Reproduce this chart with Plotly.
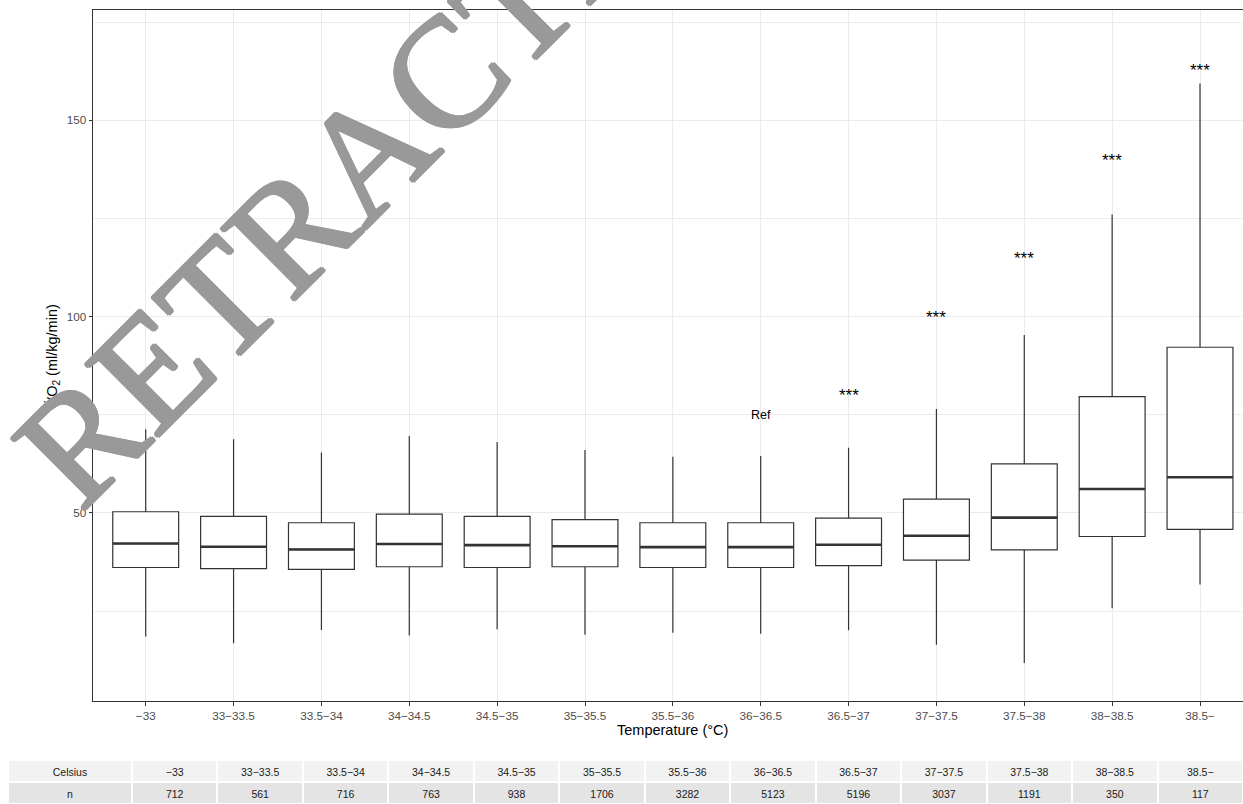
import plotly.graph_objects as go

# ---------------- data ----------------
categories = ["−33", "33−33.5", "33.5−34", "34−34.5", "34.5−35", "35−35.5", "35.5−36",
              "36−36.5", "36.5−37", "37−37.5", "37.5−38", "38−38.5", "38.5−"]
n_counts = [712, 561, 716, 763, 938, 1706, 3282, 5123, 5196, 3037, 1191, 350, 117]

lower_whisker = [18.5, 16.8, 20.2, 18.8, 20.4, 19.0, 19.5, 19.2, 20.1, 16.4, 11.8, 25.7, 31.8]
q1 = [36.1, 35.8, 35.6, 36.3, 36.1, 36.3, 36.1, 36.1, 36.6, 38.0, 40.6, 44.0, 45.8]
median = [42.2, 41.4, 40.7, 42.1, 41.8, 41.5, 41.3, 41.3, 41.9, 44.2, 48.8, 56.1, 59.1]
q3 = [50.3, 49.1, 47.5, 49.7, 49.1, 48.3, 47.5, 47.5, 48.7, 53.5, 62.5, 79.6, 92.2]
upper_whisker = [71.3, 68.8, 65.4, 69.6, 68.1, 66.0, 64.3, 64.5, 66.6, 76.5, 95.3, 126.0, 159.4]

ref_index = 7
ref_label = "Ref"
ref_y = 75.0
sig_index = [8, 9, 10, 11, 12]
sig_label = "***"
sig_y = [79.8, 99.7, 114.8, 139.7, 162.6]

x_title = "Temperature (°C)"
y_title = "V̇O<sub>2</sub> (ml/kg/min)"
watermark = "RETRACTED"

# ---------------- layout geometry (pixels) ----------------
W, H = 1243, 804
panel_left, panel_top, panel_bottom = 93, 10, 701
pos = list(range(len(categories)))
box_w = 0.75

def px_x(p):
    return p / W

def px_y(p):
    return (H - p) / H

fig = go.Figure()

fig.add_trace(go.Box(
    x=pos, q1=q1, median=median, q3=q3,
    lowerfence=lower_whisker, upperfence=upper_whisker,
    width=box_w, whiskerwidth=0, boxpoints=False,
    fillcolor="white", line=dict(color="#333333", width=1.2),
    hoverinfo="skip", showlegend=False,
))

# thicker median segments
mx, my = [], []
for p, m in zip(pos, median):
    mx += [p - box_w / 2, p + box_w / 2, None]
    my += [m, m, None]
fig.add_trace(go.Scatter(x=mx, y=my, mode="lines",
                         line=dict(color="#333333", width=2.6),
                         hoverinfo="skip", showlegend=False))

# table below the plot
fig.add_trace(go.Table(
    domain=dict(x=[px_x(8), 1.0], y=[0, px_y(760)]),
    columnwidth=[124] + [85.5] * len(categories),
    header=dict(values=["Celsius"] + categories,
                fill_color="#F2F2F2", line=dict(color="white", width=2),
                align="center", height=22,
                font=dict(family="Liberation Sans", size=10.5, color="#1a1a1a")),
    cells=dict(values=[["n"]] + [[v] for v in n_counts],
               fill_color="#E4E4E4", line=dict(color="white", width=2),
               align="center", height=22,
               font=dict(family="Liberation Sans", size=10.5, color="#1a1a1a")),
))

annotations = []
annotations.append(dict(x=ref_index, y=ref_y, xref="x", yref="y", text=ref_label,
                        xanchor="center", yanchor="middle",
                        showarrow=False, font=dict(size=12.5, color="black")))
for i, yv in zip(sig_index, sig_y):
    annotations.append(dict(x=i, y=yv, xref="x", yref="y", text=sig_label,
                            xanchor="center", yanchor="middle",
                            showarrow=False, font=dict(size=17, color="black")))
annotations.append(dict(x=px_x(673), y=px_y(730), xref="paper", yref="paper",
                        text=x_title, showarrow=False,
                        xanchor="center", yanchor="middle",
                        font=dict(size=14.5, color="black")))
annotations.append(dict(x=px_x(52), y=px_y(355.5), xref="paper", yref="paper",
                        text=y_title, showarrow=False, textangle=-90,
                        xanchor="center", yanchor="middle",
                        font=dict(size=14.5, color="black")))
wm_shadow = ("1.5px 0 0 #999999, -1.5px 0 0 #999999, 0 1.5px 0 #999999, "
             "0 -1.5px 0 #999999, 1px 1px 0 #999999, -1px -1px 0 #999999")
annotations.append(dict(x=px_x(370), y=px_y(150), xref="paper", yref="paper",
                        text=watermark, showarrow=False, textangle=-45,
                        xanchor="center", yanchor="middle",
                        font=dict(family="Liberation Serif", size=157, color="#999999",
                                  shadow=wm_shadow)))

x_max = 12 + (W - 1200) / 87.85

fig.update_layout(
    width=W, height=H,
    margin=dict(l=0, r=0, t=0, b=0),
    paper_bgcolor="white", plot_bgcolor="white",
    font=dict(family="Liberation Sans", color="#4D4D4D"),
    annotations=annotations,
    xaxis=dict(domain=[px_x(panel_left), 1.0], range=[-0.6, x_max],
               tickmode="array", tickvals=pos, ticktext=categories,
               showgrid=True, gridcolor="#EBEBEB", gridwidth=1.1,
               showline=True, mirror=True, linecolor="#333333", linewidth=1,
               ticks="outside", ticklen=3.5, tickcolor="#333333", tickwidth=1,
               tickfont=dict(size=11.7, color="#4D4D4D"),
               zeroline=False, automargin=False),
    yaxis=dict(domain=[px_y(panel_bottom), px_y(panel_top)], range=[2.1, 178.1],
               tickmode="array", tickvals=[50, 100, 150],
               showgrid=True, gridcolor="#EBEBEB", gridwidth=1.1,
               minor=dict(tickvals=[25, 75, 125, 175], showgrid=True,
                          gridcolor="#EBEBEB", gridwidth=0.6, ticklen=0),
               showline=True, mirror=False, linecolor="#333333", linewidth=1,
               ticks="outside", ticklen=3.5, tickcolor="#333333", tickwidth=1,
               tickfont=dict(size=11.7, color="#4D4D4D"),
               zeroline=False, automargin=False),
)

fig.write_html("out.html", config={"displayModeBar": False},
               post_script="document.body.style.margin='0px';document.body.style.overflow='hidden';")
